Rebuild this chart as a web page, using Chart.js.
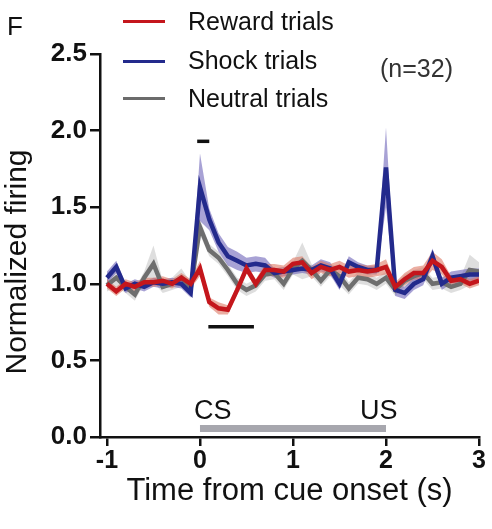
<!DOCTYPE html>
<html>
<head>
<meta charset="utf-8">
<script src="https://cdn.jsdelivr.net/npm/chart.js@4.4.1/dist/chart.umd.min.js"></script>
<style>
    body { margin: 0; background: #fff; font-family: "Liberation Sans", Arial, Helvetica, sans-serif; }
    #wrap { position: relative; width: 492px; height: 529px; }
    canvas { position: absolute; left: 0; top: 0; }
    .txt { position: absolute; color: #111; white-space: nowrap; line-height: 1; }
    .swatch { position: absolute; height: 3px; width: 42px; }
    #yTitle { left: 16px; top: 262px; font-size: 30px; transform: translate(-50%, -50%) rotate(-90deg); }
</style>
</head>
<body>
<div id="wrap">
    <canvas id="chart" width="492" height="529"></canvas>
    <div class="txt" style="left:7px; top:13px; font-size:26px;">F</div>
    <div class="swatch" style="left:123px; top:20px; background:#c4161c;"></div>
    <div class="txt" style="left:188px; top:9px; font-size:25px;">Reward trials</div>
    <div class="swatch" style="left:123px; top:60px; background:#232a8c;"></div>
    <div class="txt" style="left:188px; top:48px; font-size:25px;">Shock trials</div>
    <div class="swatch" style="left:123px; top:97px; background:#6b6b6b;"></div>
    <div class="txt" style="left:188px; top:86px; font-size:25px;">Neutral trials</div>
    <div class="txt" style="left:380px; top:56px; font-size:25px; color:#333;">(n=32)</div>
    <div class="txt" id="yTitle">Normalized firing</div>
    <div class="txt" id="csLabel" style="font-size:27px;">CS</div>
    <div class="txt" id="usLabel" style="font-size:27px;">US</div>
</div>
<script>
// time bins (s)
const times = [-1.0, -0.9, -0.8, -0.7, -0.6, -0.5, -0.4, -0.3, -0.2, -0.1,
    0.0, 0.1, 0.2, 0.3, 0.4, 0.5, 0.6, 0.7, 0.8, 0.9,
    1.0, 1.1, 1.2, 1.3, 1.4, 1.5, 1.6, 1.7, 1.8, 1.9,
    2.0, 2.1, 2.2, 2.3, 2.4, 2.5, 2.6, 2.7, 2.8, 2.9, 3.0]

const rewardMean = [1.00, 0.95, 1.00, 0.98, 1.01, 1.01, 1.02, 1.00, 1.04, 1.00,
    1.10, 0.88, 0.84, 0.83, 0.96, 1.10, 1.00, 1.09, 1.09, 1.08,
    1.13, 1.14, 1.07, 1.11, 1.09, 1.11, 1.08, 1.09, 1.08, 1.09,
    1.11, 0.98, 1.03, 1.07, 1.07, 1.15, 1.11, 1.02, 1.03, 1.00, 1.02]
const rewardSem = [0.03, 0.03, 0.03, 0.03, 0.03, 0.03, 0.03, 0.03, 0.03, 0.03,
    0.05, 0.03, 0.04, 0.03, 0.03, 0.03, 0.03, 0.04, 0.04, 0.04,
    0.04, 0.04, 0.04, 0.04, 0.04, 0.04, 0.04, 0.04, 0.04, 0.04,
    0.05, 0.03, 0.04, 0.04, 0.05, 0.06, 0.05, 0.03, 0.03, 0.03, 0.03]

const shockMean = [1.04, 1.11, 0.97, 1.00, 0.98, 1.01, 1.00, 1.01, 1.00, 0.94,
    1.63, 1.42, 1.27, 1.18, 1.15, 1.12, 1.13, 1.12, 1.07, 1.08,
    1.09, 1.10, 1.09, 1.12, 1.10, 1.00, 1.14, 1.11, 1.09, 1.09,
    1.76, 0.96, 0.94, 1.00, 1.03, 1.18, 1.00, 1.04, 1.05, 1.06, 1.06]
const shockSem = [0.04, 0.04, 0.03, 0.03, 0.03, 0.03, 0.03, 0.03, 0.03, 0.03,
    0.22, 0.07, 0.06, 0.06, 0.06, 0.05, 0.05, 0.05, 0.03, 0.03,
    0.03, 0.03, 0.03, 0.04, 0.04, 0.04, 0.04, 0.03, 0.03, 0.03,
    0.26, 0.04, 0.04, 0.04, 0.04, 0.05, 0.04, 0.04, 0.04, 0.04, 0.04]

const neutralMean = [0.99, 1.04, 0.98, 0.93, 1.04, 1.13, 0.98, 1.00, 1.04, 0.97,
    1.37, 1.22, 1.17, 1.09, 1.00, 0.96, 0.99, 1.06, 1.07, 1.00,
    1.10, 1.15, 1.09, 1.02, 1.09, 1.05, 0.97, 1.04, 1.03, 1.00,
    1.04, 0.96, 1.02, 1.05, 1.07, 1.00, 1.01, 0.98, 1.00, 1.09, 1.08]
const neutralSem = [0.04, 0.06, 0.04, 0.04, 0.04, 0.12, 0.04, 0.04, 0.06, 0.04,
    0.05, 0.04, 0.04, 0.04, 0.04, 0.04, 0.04, 0.04, 0.04, 0.04,
    0.04, 0.12, 0.04, 0.04, 0.04, 0.06, 0.04, 0.04, 0.04, 0.04,
    0.04, 0.04, 0.04, 0.04, 0.04, 0.04, 0.04, 0.04, 0.04, 0.10, 0.06]

const xTicks = [-1, 0, 1, 2, 3]
const yTicks = [0, 0.5, 1.0, 1.5, 2.0, 2.5]

// significance bars: [start, end] in s, and height
const sigShort = [-0.03, 0.10]
const sigShortY = 1.93
const sigLong = [0.09, 0.58]
const sigLongY = 0.72

// cue period
const cueSpan = [0, 2]

function pts(ys) {
    return times.map((t, i) => ({ x: t, y: ys[i] }))
}

function band(mean, sem, sign) {
    return times.map((t, i) => ({ x: t, y: mean[i] + sign * sem[i] }))
}

function bandSets(mean, sem, color, order) {
    return [
        { data: band(mean, sem, 1), borderWidth: 0, pointRadius: 0, fill: false, order: order },
        { data: band(mean, sem, -1), borderWidth: 0, pointRadius: 0, fill: '-1',
          backgroundColor: color, order: order }
    ]
}

function lineSet(mean, color, order) {
    return { data: pts(mean), borderColor: color, borderWidth: 4.5, pointRadius: 0,
             fill: false, tension: 0, order: order }
}

function barSet(span, y) {
    return { data: [{ x: span[0], y: y }, { x: span[1], y: y }], borderColor: '#111',
             borderWidth: 3.5, pointRadius: 0, fill: false, order: 0 }
}

const cuePlugin = {
    id: 'cue',
    afterDraw(chart) {
        const ctx = chart.ctx
        const xs = chart.scales.x
        const x0 = xs.getPixelForValue(cueSpan[0])
        const x1 = xs.getPixelForValue(cueSpan[1])
        const y = chart.chartArea.bottom - 8
        ctx.save()
        ctx.fillStyle = '#a7a7ae'
        ctx.fillRect(x0, y - 4, x1 - x0, 7)
        ctx.restore()

        const cs = document.getElementById('csLabel')
        const us = document.getElementById('usLabel')
        cs.style.left = (x0 - 6) + 'px'
        cs.style.top = (y - 32) + 'px'
        us.style.left = (x1 - us.offsetWidth + 12) + 'px'
        us.style.top = (y - 32) + 'px'
    }
}

const fontFam = "'Liberation Sans', Arial, Helvetica, sans-serif"

new Chart(document.getElementById('chart'), {
    type: 'line',
    data: {
        datasets: [
            barSet(sigShort, sigShortY),
            barSet(sigLong, sigLongY),
            lineSet(rewardMean, '#c4161c', 1),
            lineSet(shockMean, '#232a8c', 2),
            lineSet(neutralMean, '#6e6e6e', 3),
            ...bandSets(rewardMean, rewardSem, 'rgba(222, 120, 100, 0.6)', 4),
            ...bandSets(shockMean, shockSem, 'rgba(110, 100, 185, 0.6)', 5),
            ...bandSets(neutralMean, neutralSem, 'rgba(200, 200, 200, 0.6)', 6)
        ]
    },
    options: {
        responsive: false,
        animation: false,
        layout: { padding: { top: 54, right: 13, left: 0, bottom: 0 } },
        plugins: { legend: { display: false }, tooltip: { enabled: false } },
        scales: {
            x: {
                type: 'linear',
                min: -1.075,
                max: 3,
                afterBuildTicks: (s) => { s.ticks = xTicks.map(v => ({ value: v })) },
                afterFit: (s) => { s.height = 92 },
                border: { color: '#111', width: 2.5 },
                grid: { drawOnChartArea: false, drawTicks: true, tickLength: 9,
                        color: '#111', lineWidth: 2.5 },
                ticks: { color: '#111', padding: 0,
                         font: { family: fontFam, size: 25, weight: 'bold' },
                         callback: (v) => String(v) },
                title: { display: true, text: 'Time from cue onset (s)', color: '#111',
                         font: { family: fontFam, size: 31 }, padding: { top: 2, bottom: 19 } }
            },
            y: {
                min: 0,
                max: 2.5,
                afterBuildTicks: (s) => { s.ticks = yTicks.map(v => ({ value: v })) },
                afterFit: (s) => { s.width = 100 },
                border: { color: '#111', width: 2.5 },
                grid: { drawOnChartArea: false, drawTicks: true, tickLength: 10,
                        color: '#111', lineWidth: 2.5 },
                ticks: { color: '#111', padding: 3,
                         font: { family: fontFam, size: 26, weight: 'bold' },
                         callback: (v) => v.toFixed(1) }
            }
        }
    },
    plugins: [cuePlugin]
})
</script>
</body>
</html>
